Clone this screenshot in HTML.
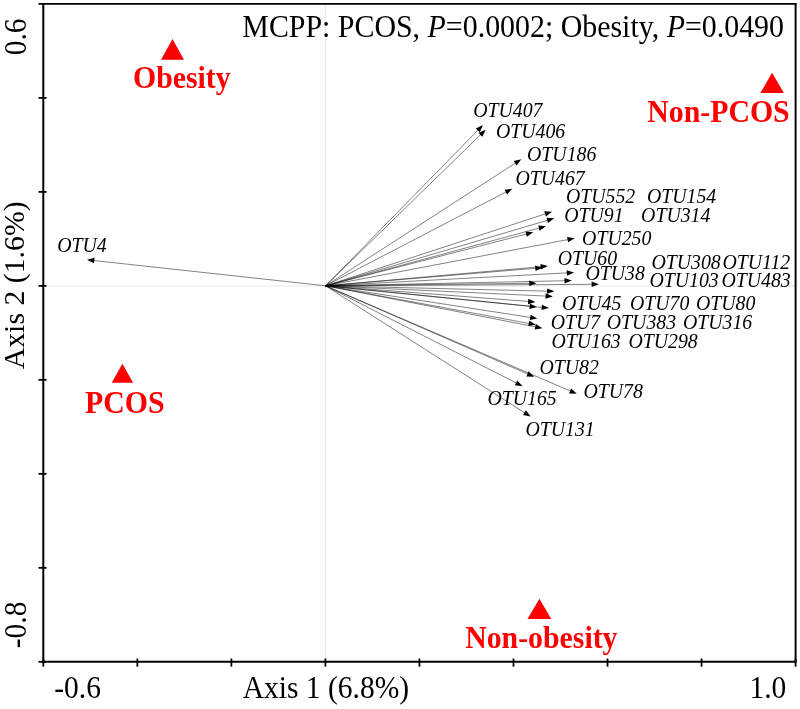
<!DOCTYPE html>
<html><head><meta charset="utf-8"><style>
html,body{margin:0;padding:0;background:#fff;}
svg{display:block;will-change:transform;}
text{font-family:"Liberation Serif",serif;}
</style></head><body>
<svg width="800" height="709" viewBox="0 0 800 709">
<rect width="800" height="709" fill="#fff"/>
<line x1="325.3" y1="4.9" x2="325.3" y2="660.8" stroke="#d2d2d2" stroke-width="1" stroke-dasharray="1 1"/>
<line x1="44.3" y1="286.0" x2="794.6" y2="286.0" stroke="#d2d2d2" stroke-width="1" stroke-dasharray="1 1"/>
<line x1="325.6" y1="285.8" x2="93.26" y2="260.48" stroke="#000" stroke-opacity="0.58" stroke-width="0.85"/>
<polygon points="87.00,259.80 94.55,257.86 93.96,263.32" fill="#000"/>
<line x1="325.6" y1="285.8" x2="478.49" y2="129.60" stroke="#000" stroke-opacity="0.58" stroke-width="0.85"/>
<polygon points="482.90,125.10 479.76,132.24 475.83,128.39" fill="#000"/>
<line x1="325.6" y1="285.8" x2="481.09" y2="134.20" stroke="#000" stroke-opacity="0.58" stroke-width="0.85"/>
<polygon points="485.60,129.80 482.29,136.87 478.45,132.93" fill="#000"/>
<line x1="325.6" y1="285.8" x2="516.01" y2="162.72" stroke="#000" stroke-opacity="0.58" stroke-width="0.85"/>
<polygon points="521.30,159.30 516.66,165.57 513.68,160.95" fill="#000"/>
<line x1="325.6" y1="285.8" x2="506.71" y2="191.61" stroke="#000" stroke-opacity="0.58" stroke-width="0.85"/>
<polygon points="512.30,188.70 507.09,194.51 504.55,189.63" fill="#000"/>
<line x1="325.6" y1="285.8" x2="546.01" y2="213.66" stroke="#000" stroke-opacity="0.58" stroke-width="0.85"/>
<polygon points="552.00,211.70 545.92,216.58 544.21,211.36" fill="#000"/>
<line x1="325.6" y1="285.8" x2="548.21" y2="220.08" stroke="#000" stroke-opacity="0.58" stroke-width="0.85"/>
<polygon points="554.25,218.30 548.03,223.00 546.47,217.73" fill="#000"/>
<line x1="325.6" y1="285.8" x2="539.92" y2="227.89" stroke="#000" stroke-opacity="0.58" stroke-width="0.85"/>
<polygon points="546.00,226.25 539.67,230.81 538.24,225.50" fill="#000"/>
<line x1="325.6" y1="285.8" x2="527.15" y2="233.82" stroke="#000" stroke-opacity="0.58" stroke-width="0.85"/>
<polygon points="533.25,232.25 526.87,236.74 525.49,231.41" fill="#000"/>
<line x1="325.6" y1="285.8" x2="568.56" y2="239.48" stroke="#000" stroke-opacity="0.58" stroke-width="0.85"/>
<polygon points="574.75,238.30 568.09,242.37 567.06,236.97" fill="#000"/>
<line x1="325.6" y1="285.8" x2="541.62" y2="266.66" stroke="#000" stroke-opacity="0.58" stroke-width="0.85"/>
<polygon points="547.90,266.10 540.87,269.48 540.39,264.01" fill="#000"/>
<line x1="325.6" y1="285.8" x2="536.32" y2="268.22" stroke="#000" stroke-opacity="0.58" stroke-width="0.85"/>
<polygon points="542.60,267.70 535.55,271.05 535.10,265.57" fill="#000"/>
<line x1="325.6" y1="285.8" x2="567.81" y2="272.84" stroke="#000" stroke-opacity="0.58" stroke-width="0.85"/>
<polygon points="574.10,272.50 566.96,275.64 566.66,270.14" fill="#000"/>
<line x1="325.6" y1="285.8" x2="565.50" y2="280.73" stroke="#000" stroke-opacity="0.58" stroke-width="0.85"/>
<polygon points="571.80,280.60 564.56,283.50 564.44,278.00" fill="#000"/>
<line x1="325.6" y1="285.8" x2="530.20" y2="283.28" stroke="#000" stroke-opacity="0.58" stroke-width="0.85"/>
<polygon points="536.50,283.20 529.23,286.04 529.17,280.54" fill="#000"/>
<line x1="325.6" y1="285.8" x2="592.60" y2="284.33" stroke="#000" stroke-opacity="0.58" stroke-width="0.85"/>
<polygon points="598.90,284.30 591.62,287.09 591.59,281.59" fill="#000"/>
<line x1="325.6" y1="285.8" x2="548.10" y2="291.15" stroke="#000" stroke-opacity="0.58" stroke-width="0.85"/>
<polygon points="554.40,291.30 547.04,293.87 547.17,288.38" fill="#000"/>
<line x1="325.6" y1="285.8" x2="546.61" y2="296.11" stroke="#000" stroke-opacity="0.58" stroke-width="0.85"/>
<polygon points="552.90,296.40 545.48,298.81 545.74,293.31" fill="#000"/>
<line x1="325.6" y1="285.8" x2="529.12" y2="301.51" stroke="#000" stroke-opacity="0.58" stroke-width="0.85"/>
<polygon points="535.40,302.00 527.91,304.18 528.33,298.70" fill="#000"/>
<line x1="325.6" y1="285.8" x2="530.63" y2="306.37" stroke="#000" stroke-opacity="0.58" stroke-width="0.85"/>
<polygon points="536.90,307.00 529.36,309.01 529.91,303.53" fill="#000"/>
<line x1="325.6" y1="285.8" x2="542.73" y2="307.47" stroke="#000" stroke-opacity="0.58" stroke-width="0.85"/>
<polygon points="549.00,308.10 541.46,310.11 542.01,304.64" fill="#000"/>
<line x1="325.6" y1="285.8" x2="531.17" y2="317.54" stroke="#000" stroke-opacity="0.58" stroke-width="0.85"/>
<polygon points="537.40,318.50 529.77,320.10 530.61,314.67" fill="#000"/>
<line x1="325.6" y1="285.8" x2="529.71" y2="323.55" stroke="#000" stroke-opacity="0.58" stroke-width="0.85"/>
<polygon points="535.90,324.70 528.22,326.08 529.22,320.67" fill="#000"/>
<line x1="325.6" y1="285.8" x2="536.22" y2="326.99" stroke="#000" stroke-opacity="0.58" stroke-width="0.85"/>
<polygon points="542.40,328.20 534.71,329.50 535.76,324.10" fill="#000"/>
<line x1="325.6" y1="285.8" x2="528.43" y2="374.28" stroke="#000" stroke-opacity="0.58" stroke-width="0.85"/>
<polygon points="534.20,376.80 526.41,376.40 528.61,371.36" fill="#000"/>
<line x1="325.6" y1="285.8" x2="571.01" y2="391.31" stroke="#000" stroke-opacity="0.58" stroke-width="0.85"/>
<polygon points="576.80,393.80 569.01,393.44 571.18,388.39" fill="#000"/>
<line x1="325.6" y1="285.8" x2="516.99" y2="383.34" stroke="#000" stroke-opacity="0.58" stroke-width="0.85"/>
<polygon points="522.60,386.20 514.85,385.34 517.34,380.44" fill="#000"/>
<line x1="325.6" y1="285.8" x2="525.29" y2="413.21" stroke="#000" stroke-opacity="0.58" stroke-width="0.85"/>
<polygon points="530.60,416.60 522.97,414.99 525.93,410.36" fill="#000"/>
<g stroke="#000" stroke-width="2" fill="none">
<line x1="43.3" y1="3.8" x2="43.3" y2="662.6999999999999"/>
<line x1="795.6" y1="3.0" x2="795.6" y2="662.6999999999999"/>
<line x1="42.4" y1="661.8" x2="795.6" y2="661.8"/>
<line x1="38.5" y1="3.9" x2="796.5" y2="3.9" stroke-width="1.8"/>
<line x1="38.5" y1="97.89" x2="46.6" y2="97.89" stroke-width="1.8"/>
<line x1="38.5" y1="191.87" x2="46.6" y2="191.87" stroke-width="1.8"/>
<line x1="38.5" y1="285.86" x2="46.6" y2="285.86" stroke-width="1.8"/>
<line x1="38.5" y1="379.84" x2="46.6" y2="379.84" stroke-width="1.8"/>
<line x1="38.5" y1="473.83" x2="46.6" y2="473.83" stroke-width="1.8"/>
<line x1="38.5" y1="567.81" x2="46.6" y2="567.81" stroke-width="1.8"/>
<line x1="38.5" y1="661.80" x2="46.6" y2="661.80" stroke-width="1.8"/>
<line x1="43.30" y1="658.5" x2="43.30" y2="666.6" stroke-width="1.8"/>
<line x1="137.34" y1="658.5" x2="137.34" y2="666.6" stroke-width="1.8"/>
<line x1="231.38" y1="658.5" x2="231.38" y2="666.6" stroke-width="1.8"/>
<line x1="325.41" y1="658.5" x2="325.41" y2="666.6" stroke-width="1.8"/>
<line x1="419.45" y1="658.5" x2="419.45" y2="666.6" stroke-width="1.8"/>
<line x1="513.49" y1="658.5" x2="513.49" y2="666.6" stroke-width="1.8"/>
<line x1="607.52" y1="658.5" x2="607.52" y2="666.6" stroke-width="1.8"/>
<line x1="701.56" y1="658.5" x2="701.56" y2="666.6" stroke-width="1.8"/>
<line x1="795.60" y1="658.5" x2="795.60" y2="666.6" stroke-width="1.8"/>
</g>
<g font-family="Liberation Serif" font-style="italic" font-size="19.8" fill="#000">
<text transform="translate(57.20,251.60) scale(1,1.06)">OTU4</text>
<text transform="translate(473.15,116.70) scale(1,1.06)">OTU407</text>
<text transform="translate(495.90,137.90) scale(1,1.06)">OTU406</text>
<text transform="translate(527.05,161.00) scale(1,1.06)">OTU186</text>
<text transform="translate(515.50,184.70) scale(1,1.06)">OTU467</text>
<text transform="translate(565.90,202.90) scale(1,1.06)">OTU552</text>
<text transform="translate(646.90,202.90) scale(1,1.06)">OTU154</text>
<text transform="translate(564.15,221.60) scale(1,1.06)">OTU91</text>
<text transform="translate(641.10,221.60) scale(1,1.06)">OTU314</text>
<text transform="translate(582.10,245.30) scale(1,1.06)">OTU250</text>
<text transform="translate(557.65,264.60) scale(1,1.06)">OTU60</text>
<text transform="translate(585.40,280.40) scale(1,1.06)">OTU38</text>
<text transform="translate(651.40,269.00) scale(1,1.06)">OTU308</text>
<text transform="translate(722.40,269.00) scale(1,1.06)">OTU112</text>
<text transform="translate(649.40,287.40) scale(1,1.06)">OTU103</text>
<text transform="translate(721.40,287.40) scale(1,1.06)">OTU483</text>
<text transform="translate(561.90,309.60) scale(1,1.06)">OTU45</text>
<text transform="translate(629.90,309.60) scale(1,1.06)">OTU70</text>
<text transform="translate(695.90,309.60) scale(1,1.06)">OTU80</text>
<text transform="translate(550.65,328.60) scale(1,1.06)">OTU7</text>
<text transform="translate(606.80,328.60) scale(1,1.06)">OTU383</text>
<text transform="translate(683.00,328.60) scale(1,1.06)">OTU316</text>
<text transform="translate(551.40,348.10) scale(1,1.06)">OTU163</text>
<text transform="translate(628.40,348.10) scale(1,1.06)">OTU298</text>
<text transform="translate(539.40,374.40) scale(1,1.06)">OTU82</text>
<text transform="translate(583.40,398.40) scale(1,1.06)">OTU78</text>
<text transform="translate(487.40,404.80) scale(1,1.06)">OTU165</text>
<text transform="translate(525.40,436.40) scale(1,1.06)">OTU131</text>
</g>
<polygon points="172.5,39.0 161.0,59.7 184.0,59.7" fill="#ff0000"/>
<polygon points="772.1,72.8 760.3000000000001,93.1 783.9,93.1" fill="#ff0000"/>
<polygon points="122.4,363.8 111.7,382.8 133.1,382.8" fill="#ff0000"/>
<polygon points="539.4,598.7 527.5,619.0 551.3,619.0" fill="#ff0000"/>
<g font-family="Liberation Serif" font-weight="bold" font-size="29.8" fill="#ff0000">
<text transform="translate(133,88.2) scale(1,1.03)">Obesity</text>
<text transform="translate(647.3,122.2) scale(1,1.03)">Non-PCOS</text>
<text transform="translate(85.1,412.6) scale(1,1.03)">PCOS</text>
<text transform="translate(465.2,647.5) scale(1,1.03)">Non-obesity</text>
</g>
<g font-family="Liberation Serif" font-size="29.5" fill="#000">
<text transform="translate(242.3,36.8) scale(1,1.03)" font-size="29.9">MCPP: PCOS, <tspan font-style="italic">P</tspan>=0.0002; Obesity, <tspan font-style="italic">P</tspan>=0.0490</text>
<text transform="translate(242.8,697.9) scale(1,1.04)">Axis 1 (6.8%)</text>
<text transform="translate(54.2,698.1) scale(1,1.08)">-0.6</text>
<text transform="translate(749.5,697.8) scale(1,1.08)">1.0</text>
<text transform="translate(24.2,369.3) rotate(-90) scale(1,1.01)" font-size="29.8">Axis 2 (1.6%)</text>
<text transform="translate(26,55.3) rotate(-90) scale(1,1.08)">0.6</text>
<text transform="translate(26,648.2) rotate(-90) scale(1,1.08)">-0.8</text>
</g>
</svg>
</body></html>
